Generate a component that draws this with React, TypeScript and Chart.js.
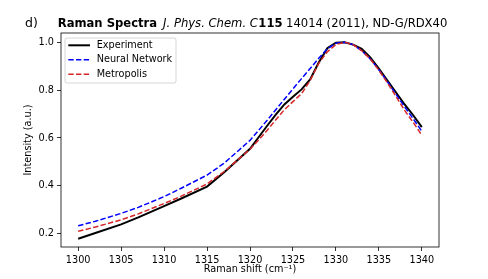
import { useEffect, useRef } from "react";
import { Chart, registerables } from "chart.js";

Chart.register(...registerables);

const ramanShift = [1300, 1302, 1305, 1307, 1310, 1312, 1315, 1317, 1320, 1321, 1322, 1323, 1324, 1325, 1326, 1327, 1328, 1329, 1330, 1331, 1332, 1333, 1334, 1335, 1336, 1337, 1338, 1339, 1340];
const experiment = [0.179, 0.203, 0.239, 0.268, 0.315, 0.347, 0.397, 0.457, 0.555, 0.603, 0.651, 0.698, 0.74, 0.772, 0.803, 0.845, 0.915, 0.975, 0.998, 1.0, 0.99, 0.972, 0.937, 0.89, 0.84, 0.79, 0.74, 0.695, 0.645];
const neuralNetwork = [0.233, 0.252, 0.285, 0.31, 0.355, 0.39, 0.445, 0.495, 0.59, 0.632, 0.674, 0.718, 0.762, 0.805, 0.848, 0.89, 0.933, 0.972, 0.996, 1.0, 0.99, 0.965, 0.93, 0.885, 0.835, 0.782, 0.73, 0.68, 0.628];
const metropolis = [0.21, 0.228, 0.258, 0.283, 0.326, 0.357, 0.408, 0.46, 0.553, 0.592, 0.632, 0.676, 0.718, 0.752, 0.785, 0.84, 0.912, 0.96, 0.99, 1.0, 0.99, 0.965, 0.93, 0.883, 0.83, 0.773, 0.715, 0.665, 0.612];

const xTicks = [1300, 1305, 1310, 1315, 1320, 1325, 1330, 1335, 1340];
const yTicks = [0.2, 0.4, 0.6, 0.8, 1.0];
const seriesLabels = ["Experiment", "Neural Network", "Metropolis"];
const seriesColors = ["#000000", "#0000ff", "#d62728"];

const FONT = "'DejaVu Sans', 'Liberation Sans', sans-serif";

const titleParts: { text: string; font: string; gap: number }[] = [
  { text: "Raman Spectra", font: `bold 11.6px ${FONT}`, gap: 6 },
  { text: "J. Phys. Chem. C", font: `italic 11.6px ${FONT}`, gap: 0.5 },
  { text: "115", font: `bold 11.6px ${FONT}`, gap: 3.5 },
  { text: "14014 (2011), ND-G/RDX40", font: `11.6px ${FONT}`, gap: 0 },
];

const decorPlugin = {
  id: "decor",
  afterDraw(chart: any) {
    const { ctx, chartArea: a } = chart;
    ctx.save();
    // frame
    ctx.strokeStyle = "#000";
    ctx.lineWidth = 0.8;
    ctx.setLineDash([]);
    ctx.strokeRect(a.left, a.top, a.right - a.left, a.bottom - a.top);

    // legend
    const bx = a.left + 4;
    const by = a.top + 5;
    const bw = 111;
    const bh = 45;
    ctx.beginPath();
    const r = 2;
    ctx.moveTo(bx + r, by);
    ctx.lineTo(bx + bw - r, by);
    ctx.quadraticCurveTo(bx + bw, by, bx + bw, by + r);
    ctx.lineTo(bx + bw, by + bh - r);
    ctx.quadraticCurveTo(bx + bw, by + bh, bx + bw - r, by + bh);
    ctx.lineTo(bx + r, by + bh);
    ctx.quadraticCurveTo(bx, by + bh, bx, by + bh - r);
    ctx.lineTo(bx, by + r);
    ctx.quadraticCurveTo(bx, by, bx + r, by);
    ctx.closePath();
    ctx.fillStyle = "rgba(255,255,255,0.8)";
    ctx.fill();
    ctx.strokeStyle = "#cccccc";
    ctx.lineWidth = 0.8;
    ctx.stroke();

    const rows = [7.3, 21.8, 36.3];
    chart.data.datasets.forEach((ds: any, i: number) => {
      const y = by + rows[i];
      ctx.beginPath();
      ctx.strokeStyle = ds.borderColor;
      ctx.lineWidth = ds.borderWidth;
      ctx.setLineDash(ds.borderDash || []);
      ctx.moveTo(bx + 3.3, y);
      ctx.lineTo(bx + 25, y);
      ctx.stroke();
      ctx.setLineDash([]);
      ctx.fillStyle = "#000";
      ctx.font = `9.7px ${FONT}`;
      ctx.textBaseline = "middle";
      ctx.textAlign = "left";
      ctx.fillText(ds.label, bx + 31.7, y);
    });

    // title
    ctx.fillStyle = "#000";
    ctx.textBaseline = "alphabetic";
    ctx.textAlign = "left";
    const base = 27.3;
    ctx.font = `12.5px ${FONT}`;
    ctx.fillText("d)", 25, base);
    let x = 57.7;
    titleParts.forEach((p) => {
      ctx.font = p.font;
      ctx.fillText(p.text, x, base);
      x += ctx.measureText(p.text).width + p.gap;
    });
    ctx.restore();
  },
};

export default function App() {
  const ref = useRef<HTMLCanvasElement | null>(null);
  useEffect(() => {
    if (!ref.current) return;
    const mk = (vals: number[]) => ramanShift.map((x, i) => ({ x, y: vals[i] }));
    const chart = new Chart(ref.current, {
      type: "line",
      data: {
        datasets: [
          {
            label: seriesLabels[0],
            data: mk(experiment),
            borderColor: seriesColors[0],
            borderWidth: 2,
            pointRadius: 0,
            tension: 0,
            order: 3,
          },
          {
            label: seriesLabels[1],
            data: mk(neuralNetwork),
            borderColor: seriesColors[1],
            borderWidth: 1.5,
            borderDash: [5.4, 2.3],
            pointRadius: 0,
            tension: 0,
            order: 2,
          },
          {
            label: seriesLabels[2],
            data: mk(metropolis),
            borderColor: seriesColors[2],
            borderWidth: 1.5,
            borderDash: [5.4, 2.3],
            pointRadius: 0,
            tension: 0,
            order: 1,
          },
        ],
      },
      options: {
        animation: false,
        responsive: false,
        devicePixelRatio: 1,
        layout: { padding: { top: 33, right: 49, left: 0, bottom: 0 } },
        plugins: { legend: { display: false }, tooltip: { enabled: false }, title: { display: false } },
        scales: {
          x: {
            type: "linear",
            min: 1298,
            max: 1342,
            afterFit: (s: any) => { s.height = 32; },
            afterBuildTicks: (s: any) => { s.ticks = xTicks.map((v) => ({ value: v })); },
            border: { display: false },
            grid: { display: true, drawOnChartArea: false, drawTicks: true, tickLength: 4, tickColor: "#000", tickWidth: 0.8 },
            ticks: {
              color: "#000",
              font: { family: FONT, size: 9.7 },
              padding: 4,
              autoSkip: false,
              maxRotation: 0,
              callback: (v: any) => String(v),
            },
            title: {
              display: true,
              text: "Raman shift (cm\u207B\u00B9)",
              color: "#000",
              font: { family: FONT, size: 9.7 },
              padding: { top: 0, bottom: 3.5 },
            },
          },
          y: {
            type: "linear",
            min: 0.1445,
            max: 1.0386,
            afterFit: (s: any) => { s.width = 61; },
            afterBuildTicks: (s: any) => { s.ticks = yTicks.map((v) => ({ value: v })); },
            border: { display: false },
            grid: { display: true, drawOnChartArea: false, drawTicks: true, tickLength: 4, tickColor: "#000", tickWidth: 0.8 },
            ticks: {
              color: "#000",
              font: { family: FONT, size: 9.7 },
              padding: 3,
              callback: (v: any) => Number(v).toFixed(1),
            },
            title: {
              display: true,
              text: "Intensity (a.u.)",
              color: "#000",
              font: { family: FONT, size: 9.7 },
              padding: { top: 23, bottom: 0 },
            },
          },
        },
      },
      plugins: [decorPlugin],
    });
    return () => chart.destroy();
  }, []);
  return (
    <div style={{ position: "fixed", left: 0, top: 0, width: 488, height: 279, background: "#fff" }}>
      <canvas ref={ref} width={488} height={279} style={{ width: 488, height: 279, display: "block" }} />
    </div>
  );
}
